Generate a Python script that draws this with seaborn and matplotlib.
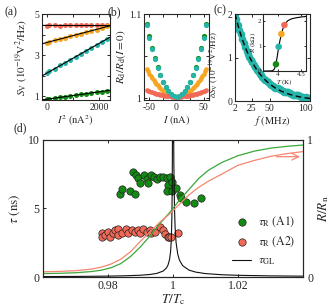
import matplotlib
matplotlib.use("Agg")
import matplotlib.pyplot as plt
import seaborn as sns

# ---------------- data ----------------
# panel (a)
a_I2 = [0, 100, 300, 500, 700, 900, 1100, 1300, 1500, 1700, 1900, 2100, 2300]
a_red = [4.44, 4.45, 4.46, 4.44, 4.47, 4.46, 4.48, 4.47, 4.49, 4.46, 4.48, 4.47, 4.46]
a_orange = [3.60, 3.66, 3.73, 3.80, 3.85, 3.93, 4.00, 4.05, 4.14, 4.20, 4.25, 4.34, 4.41]
a_teal = [2.12, 2.20, 2.33, 2.50, 2.62, 2.78, 2.91, 3.07, 3.20, 3.36, 3.49, 3.65, 3.80]
a_green = [0.84, 0.86, 0.89, 0.93, 0.97, 1.00, 1.04, 1.08, 1.11, 1.15, 1.19, 1.22, 1.26]
a_fit_x = [-180, 2400]
a_fit_red = [4.45, 4.44]
a_fit_orange = [3.55, 4.43]
a_fit_teal = [1.98, 3.87]
a_fit_green = [0.81, 1.28]

# panel (b)
b_I_coarse = [-55, -50, -45, -40, -35, -30, -25, -20, -15, -10, -5, 0,
              5, 10, 15, 20, 25, 30, 35, 40, 45, 50, 55]
b_teal = [1.0870, 1.0722, 1.0589, 1.0470, 1.0364, 1.0273, 1.0196, 1.0132, 1.0083, 1.0048, 1.0027, 1.0020,
          1.0027, 1.0048, 1.0083, 1.0132, 1.0196, 1.0273, 1.0364, 1.0470, 1.0589, 1.0722, 1.0870]
b_green = [1.0885, 1.0735, 1.0598, 1.0478, 1.0370, 1.0278, 1.0200, 1.0135, 1.0085, 1.0049, 1.0027, 1.0020,
           1.0027, 1.0049, 1.0085, 1.0135, 1.0200, 1.0278, 1.0370, 1.0478, 1.0598, 1.0735, 1.0885]
b_I_fine = [-55, -52.5, -50, -47.5, -45, -42.5, -40, -37.5, -35, -32.5, -30, -27.5, -25, -22.5, -20,
            -17.5, -15, -12.5, -10, -7.5, -5, -2.5, 0, 2.5, 5, 7.5, 10, 12.5, 15, 17.5, 20, 22.5,
            25, 27.5, 30, 32.5, 35, 37.5, 40, 42.5, 45, 47.5, 50, 52.5, 55]
b_orange = [1.0350, 1.0321, 1.0293, 1.0266, 1.0241, 1.0217, 1.0195, 1.0173, 1.0154, 1.0135, 1.0118,
            1.0103, 1.0088, 1.0075, 1.0064, 1.0053, 1.0045, 1.0037, 1.0031, 1.0026, 1.0023, 1.0021,
            1.0020, 1.0021, 1.0023, 1.0026, 1.0031, 1.0037, 1.0045, 1.0053, 1.0064, 1.0075, 1.0088,
            1.0103, 1.0118, 1.0135, 1.0154, 1.0173, 1.0195, 1.0217, 1.0241, 1.0266, 1.0293, 1.0321, 1.0350]
b_red = [1.0100, 1.0093, 1.0086, 1.0080, 1.0074, 1.0068, 1.0062, 1.0057, 1.0052, 1.0048, 1.0044,
         1.0040, 1.0037, 1.0033, 1.0031, 1.0028, 1.0026, 1.0024, 1.0023, 1.0021, 1.0021, 1.0020,
         1.0020, 1.0020, 1.0021, 1.0021, 1.0023, 1.0024, 1.0026, 1.0028, 1.0031, 1.0033, 1.0037,
         1.0040, 1.0044, 1.0048, 1.0052, 1.0057, 1.0062, 1.0068, 1.0074, 1.0080, 1.0086, 1.0093, 1.0100]

# panel (c)
c_f = [2, 4, 6, 8, 10, 12, 14, 16, 18, 20, 22, 24, 26, 28, 30, 32, 34, 36, 38, 40, 42, 44, 46, 48,
       50, 52, 54, 56, 58, 60, 62, 64, 66, 68, 70, 72, 74, 76, 78, 80, 82, 84, 86, 88, 90, 92, 94,
       96, 98, 100, 102, 104]
c_dS = [2.00, 1.88, 1.75, 1.63, 1.53, 1.42, 1.34, 1.25, 1.16, 1.09, 1.01, 0.95, 0.89, 0.82, 0.78,
        0.72, 0.68, 0.63, 0.59, 0.56, 0.51, 0.49, 0.45, 0.43, 0.39, 0.37, 0.35, 0.32, 0.31, 0.30,
        0.29, 0.27, 0.25, 0.22, 0.21, 0.20, 0.21, 0.20, 0.18, 0.15, 0.14, 0.13, 0.13, 0.14, 0.13,
        0.11, 0.09, 0.09, 0.08, 0.09, 0.07, 0.06]
c_fit_f = [2, 6, 10, 14, 18, 22, 26, 30, 34, 38, 42, 46, 50, 54, 58, 62, 66, 70, 74, 78, 82, 86,
           90, 94, 98, 102, 106]
c_fit = [2.000, 1.746, 1.525, 1.331, 1.162, 1.015, 0.886, 0.774, 0.675, 0.590, 0.515, 0.450,
         0.392, 0.343, 0.299, 0.261, 0.228, 0.199, 0.174, 0.152, 0.133, 0.116, 0.101, 0.088,
         0.077, 0.067, 0.059]
# inset
in_T = [3.67, 3.80, 3.88, 3.92, 3.95, 3.98, 4.01, 4.04, 4.07, 4.10, 4.13, 4.17, 4.22, 4.30, 4.40, 4.50, 4.61]
in_R = [0.0, 0.0, 0.01, 0.08, 0.24, 0.55, 0.90, 1.20, 1.45, 1.65, 1.80, 1.93, 2.02, 2.09, 2.13, 2.16, 2.18]
in_pt_T = [3.955, 4.014, 4.074, 4.140]
in_pt_R = [0.27, 0.97, 1.48, 1.84]

# panel (d)
d_green_T = [0.9838, 0.9842, 0.9868, 0.9883, 0.9878, 0.9886, 0.9893, 0.9899, 0.9911, 0.9919,
             0.9924, 0.9934, 0.9942, 0.9950, 0.9960, 0.9970, 0.9981, 0.9986, 0.9983, 0.9991,
             0.9996, 0.9998, 1.0011, 1.0022, 1.0025, 1.0039, 1.0066, 1.0086]
d_green_tau = [6.05, 6.40, 6.30, 6.06, 7.64, 7.45, 7.20, 6.88, 7.45, 7.13, 6.88, 7.45, 7.32, 7.13,
               7.27, 7.32, 7.25, 6.71, 6.28, 7.27, 6.96, 6.30, 6.47, 5.99, 5.74, 5.45, 5.43, 5.80]
d_red_T = [0.9781, 0.9781, 0.9791, 0.9801, 0.9806, 0.9816, 0.9822, 0.9832, 0.9832, 0.9842,
           0.9857, 0.9863, 0.9873, 0.9883, 0.9893, 0.9899, 0.9909, 0.9919, 0.9929, 0.9934,
           0.9945, 0.9960, 0.9970, 0.9975, 0.9986, 0.9988, 0.9994, 1.0016]
d_red_tau = [3.23, 2.90, 3.07, 3.31, 2.90, 3.19, 3.43, 3.48, 3.07, 3.23, 3.48, 3.23, 3.43, 3.31,
             3.43, 3.19, 3.48, 3.31, 3.43, 3.19, 3.31, 3.63, 3.43, 3.14, 2.94, 2.94, 2.90, 3.19]
d_gl_T = [0.96, 0.97, 0.98, 0.985, 0.99, 0.993, 0.995, 0.997, 0.998, 0.9985, 0.999, 0.9993,
          0.9995, 0.9997, 0.9998, 0.99985, 0.9999, 1.0, 1.0001, 1.00015, 1.0002, 1.0003, 1.0005,
          1.0007, 1.001, 1.0015, 1.002, 1.003, 1.005, 1.007, 1.01, 1.015, 1.02, 1.03, 1.04]
d_gl_tau = [0.033, 0.043, 0.065, 0.087, 0.13, 0.186, 0.26, 0.433, 0.65, 0.867, 1.3, 1.86, 2.6,
            4.33, 6.5, 8.67, 13.0, 40.0, 25.0, 16.7, 12.5, 8.33, 5.0, 3.57, 2.5, 1.67, 1.25, 0.83,
            0.5, 0.36, 0.25, 0.167, 0.125, 0.083, 0.0625]
d_R_T = [0.96, 0.965, 0.97, 0.975, 0.978, 0.981, 0.984, 0.987, 0.99, 0.993, 0.996, 0.999, 1.002,
         1.005, 1.008, 1.011, 1.015, 1.02, 1.025, 1.03, 1.035, 1.04]
d_R_green = [0.025, 0.027, 0.031, 0.040, 0.050, 0.068, 0.098, 0.15, 0.22, 0.30, 0.39, 0.47, 0.56,
             0.64, 0.72, 0.78, 0.835, 0.885, 0.918, 0.94, 0.953, 0.963]
d_R_red = [0.038, 0.041, 0.046, 0.058, 0.072, 0.095, 0.13, 0.185, 0.26, 0.33, 0.40, 0.46, 0.53,
           0.60, 0.655, 0.70, 0.75, 0.815, 0.85, 0.88, 0.90, 0.915]

# ---------------- style ----------------
GREEN = "#138a13"
RED = "#f26a57"
ORANGE = "#f7a51e"
TEAL = "#26b3a8"
LGREEN = "#3aa83a"
LRED = "#f58672"

sns.set_theme(style="ticks")
plt.rcParams["font.family"] = ["Liberation Serif", "DejaVu Serif"]
plt.rcParams["mathtext.fontset"] = "stix"
plt.rcParams.update({
    "xtick.direction": "in", "ytick.direction": "in",
    "xtick.top": True, "ytick.right": True,
    "axes.linewidth": 0.8,
    "xtick.major.size": 2.5, "ytick.major.size": 2.5,
    "xtick.major.width": 0.7, "ytick.major.width": 0.7,
    "xtick.major.pad": 2, "ytick.major.pad": 2,
    "axes.labelpad": 1,
})

fig = plt.figure(figsize=(3.35, 3.08), dpi=100)

SM = 7  # small tick font

# ---------- (a) ----------
axa = fig.add_axes([0.125, 0.675, 0.203, 0.279])
for vals, col in [(a_red, RED), (a_orange, ORANGE), (a_teal, TEAL), (a_green, GREEN)]:
    sns.scatterplot(x=a_I2, y=vals, ax=axa, color=col, s=13, linewidth=0, zorder=2)
for fit in [a_fit_red, a_fit_orange, a_fit_teal, a_fit_green]:
    sns.lineplot(x=a_fit_x, y=fit, ax=axa, color="black", lw=0.8, zorder=3, sort=False)
axa.set_xlim(-180, 2400)
axa.set_ylim(0.8, 5)
axa.set_xticks([0, 1000, 2000])
axa.set_xticklabels(["0", "", "2000"])
axa.set_yticks([1, 2, 3, 4, 5])
axa.set_yticklabels(["1", "", "3", "", "5"])
axa.tick_params(labelsize=SM)
axa.set_xlabel(r"$I^2\ (\mathrm{nA}^2)$", fontsize=7.5)
axa.set_ylabel(r"$S_\mathrm{V}\ (10^{-19}\mathrm{V}^2/\mathrm{Hz})$", fontsize=8, labelpad=3)

# ---------- (b) ----------
axb = fig.add_axes([0.43, 0.675, 0.194, 0.279])
sns.scatterplot(x=b_I_coarse, y=b_green, ax=axb, color=GREEN, s=14, linewidth=0, zorder=2)
sns.scatterplot(x=b_I_coarse, y=b_teal, ax=axb, color=TEAL, s=14, linewidth=0, zorder=3)
sns.scatterplot(x=b_I_fine, y=b_orange, ax=axb, color=ORANGE, s=11, linewidth=0, zorder=2)
sns.scatterplot(x=b_I_fine, y=b_red, ax=axb, color=RED, s=11, linewidth=0, zorder=2)
axb.set_xlim(-60, 60)
axb.set_ylim(0.998, 1.1)
axb.set_xticks([-50, -25, 0, 25, 50])
axb.set_xticklabels(["-50", "", "0", "", "50"])
axb.set_yticks([1.0, 1.05, 1.1])
axb.set_yticklabels(["1", "", "1.1"])
axb.tick_params(labelsize=SM)
axb.set_xlabel(r"$I\ (\mathrm{nA})$", fontsize=7.5)
axb.set_ylabel(r"$R_\mathrm{d}/R_\mathrm{d}(I=0)$", fontsize=8)

# ---------- (c) ----------
axc = fig.add_axes([0.7015, 0.672, 0.224, 0.2825])
sns.scatterplot(x=c_f, y=c_dS, ax=axc, color=TEAL, s=30, linewidth=0, zorder=2)
sns.lineplot(x=c_fit_f, y=c_fit, ax=axc, color="black", lw=1.0, zorder=3, sort=False,
             linestyle=(0, (4, 2.5)))
axc.set_xlim(2, 106)
axc.set_ylim(0, 2)
axc.set_xticks([2, 25, 50, 100])
axc.set_xticklabels(["2", "25", "50", "100"])
axc.set_yticks([0, 1, 2])
axc.tick_params(labelsize=SM)
axc.set_xlabel(r"$f\ (\mathrm{MHz})$", fontsize=7.5)
axc.set_ylabel(r"$\delta S_\mathrm{V}\ (10^{-19}\mathrm{V}^2/\mathrm{Hz})$", fontsize=6.5)
axc.yaxis.set_label_coords(-0.19, 0.42)

axi = fig.add_axes([0.785, 0.7695, 0.128, 0.185])
sns.lineplot(x=in_T, y=in_R, ax=axi, color="black", lw=0.8, zorder=2, sort=False)
sns.scatterplot(x=in_pt_T, y=in_pt_R, ax=axi, hue=["g", "t", "o", "r"],
                palette=[GREEN, TEAL, ORANGE, RED], s=22, linewidth=0, zorder=3, legend=False)
axi.set_xlim(3.67, 4.61)
axi.set_ylim(0, 2.28)
axi.set_xticks([4, 4.5])
axi.set_xticklabels(["4", "4.5"])
axi.set_yticks([0, 1, 2])
axi.tick_params(labelsize=5, length=1.5, pad=1)
axi.set_xlabel(r"$T\ (\mathrm{K})$", fontsize=5, labelpad=0)
axi.set_ylabel(r"$R\ (\mathrm{k}\Omega)$", fontsize=5, labelpad=0)
axi.patch.set_facecolor("white")

# ---------- (d) ----------
axd = fig.add_axes([0.128, 0.1006, 0.776, 0.445])
sns.scatterplot(x=d_green_T, y=d_green_tau, ax=axd, color=GREEN, s=28, edgecolor="#222222",
                linewidth=0.5, zorder=2, label=r"$\tau_\mathrm{R}\ (\mathrm{A1})$")
sns.scatterplot(x=d_red_T, y=d_red_tau, ax=axd, color=RED, s=28, edgecolor="#222222",
                linewidth=0.5, zorder=2, label=r"$\tau_\mathrm{R}\ (\mathrm{A2})$")
sns.lineplot(x=d_gl_T, y=d_gl_tau, ax=axd, color="#111111", lw=0.8, zorder=3, sort=False,
             label=r"$\tau_\mathrm{GL}$")
axd.set_xlim(0.96, 1.04)
axd.set_ylim(0, 10)
axd.set_xticks([0.98, 1.0, 1.02])
axd.set_xticklabels(["0.98", "1", "1.02"])
axd.set_yticks([0, 5, 10])
axd.tick_params(labelsize=8.5, right=False, pad=2.5)
axd.set_xlabel(r"$T/T_\mathrm{c}$", fontsize=9.5, labelpad=0)
axd.set_ylabel(r"$\tau\ (\mathrm{ns})$", fontsize=9.5, labelpad=4)
axd.legend(loc="lower right", bbox_to_anchor=(1.0, 0.02), frameon=False, fontsize=8.5,
           handlelength=1.6, handletextpad=0.6, labelspacing=0.45, borderaxespad=0.2)

ax2 = axd.twinx()
sns.lineplot(x=d_R_T, y=d_R_green, ax=ax2, color=LGREEN, lw=0.9, sort=False)
sns.lineplot(x=d_R_T, y=d_R_red, ax=ax2, color=LRED, lw=0.9, sort=False)
ax2.set_ylim(0, 1)
ax2.set_yticks([0, 1])
ax2.tick_params(labelsize=8.5, pad=3, left=False)
ax2.set_ylabel(r"$R/R_\mathrm{n}$", fontsize=9.5, labelpad=2)
ax2.annotate("", xy=(1.0403, 0.957), xytext=(1.0303, 0.957),
             arrowprops=dict(arrowstyle="->", color=LGREEN, lw=0.9, shrinkA=0, shrinkB=0))
ax2.annotate("", xy=(1.0391, 0.878), xytext=(1.0319, 0.878),
             arrowprops=dict(arrowstyle="->", color=LRED, lw=0.9, shrinkA=0, shrinkB=0))

# panel labels
fig.text(0.012, 0.96, "(a)", fontsize=8.5, va="center")
fig.text(0.322, 0.96, "(b)", fontsize=8.5, va="center")
fig.text(0.636, 0.968, "(c)", fontsize=8.5, va="center")
fig.text(0.04, 0.585, "(d)", fontsize=8.5, va="center")

fig.savefig("out.png", dpi=100)
